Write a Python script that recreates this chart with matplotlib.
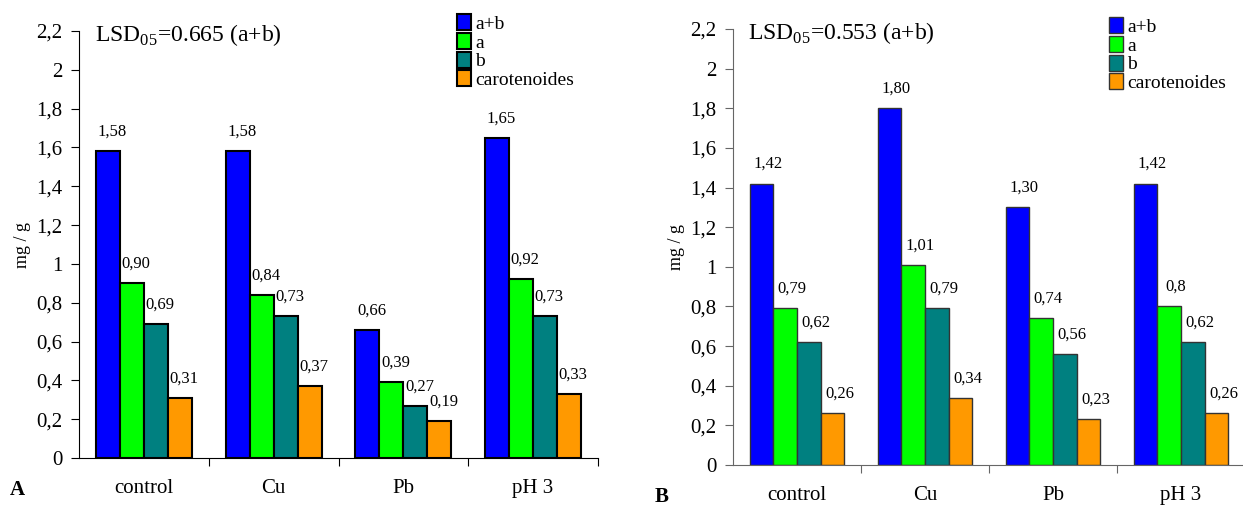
import numpy as np
import matplotlib
matplotlib.use("Agg")
import matplotlib.pyplot as plt

plt.rcParams['font.family'] = ['Liberation Serif', 'DejaVu Serif']
plt.rcParams['mathtext.fontset'] = 'custom'
plt.rcParams['mathtext.rm'] = 'Liberation Serif'

categories = ['control', 'Cu', 'Pb', 'pH 3']
series = ['a+b', 'a', 'b', 'carotenoides']
colors = ['#0000FF', '#00FF00', '#008080', '#FF9900']

# panel A
vals_A = {
    'a+b': [1.58, 1.58, 0.66, 1.65],
    'a': [0.90, 0.84, 0.39, 0.92],
    'b': [0.69, 0.73, 0.27, 0.73],
    'carotenoides': [0.31, 0.37, 0.19, 0.33],
}
labels_A = {
    'a+b': ['1,58', '1,58', '0,66', '1,65'],
    'a': ['0,90', '0,84', '0,39', '0,92'],
    'b': ['0,69', '0,73', '0,27', '0,73'],
    'carotenoides': ['0,31', '0,37', '0,19', '0,33'],
}
# panel B
vals_B = {
    'a+b': [1.42, 1.80, 1.30, 1.42],
    'a': [0.79, 1.01, 0.74, 0.80],
    'b': [0.62, 0.79, 0.56, 0.62],
    'carotenoides': [0.26, 0.34, 0.23, 0.26],
}
labels_B = {
    'a+b': ['1,42', '1,80', '1,30', '1,42'],
    'a': ['0,79', '1,01', '0,74', '0,8'],
    'b': ['0,62', '0,79', '0,56', '0,62'],
    'carotenoides': ['0,26', '0,34', '0,23', '0,26'],
}
yticks = [0, 0.2, 0.4, 0.6, 0.8, 1.0, 1.2, 1.4, 1.6, 1.8, 2.0, 2.2]
ytick_labels = ['0', '0,2', '0,4', '0,6', '0,8', '1', '1,2', '1,4', '1,6', '1,8', '2', '2,2']

W, H = 1243, 505
fig = plt.figure(figsize=(W / 100, H / 100), dpi=100)


def panel(rect, vals, labels, lsd, letter, letter_pos, edge, axcol, lw, leg_pos, dx):
    ax = fig.add_axes(rect)
    x = np.arange(len(categories))
    bw = 0.185
    for i, s in enumerate(series):
        pos = x + (i - 1.5) * bw
        ax.bar(pos, vals[s], bw, color=colors[i], edgecolor=edge, linewidth=lw, label=s)
        for px, v, t in zip(pos, vals[s], labels[s]):
            ax.annotate(t, (px, v), xytext=(dx, 14), textcoords='offset points',
                        ha='center', va='center', fontsize=12)
    ax.set_xlim(-0.5, 3.5)
    ax.set_ylim(0, 2.2)
    ax.set_yticks(yticks)
    ax.set_yticklabels(ytick_labels, fontsize=15)
    ax.set_xticks([0.5, 1.5, 2.5, 3.5])
    ax.set_xticklabels([])
    ax.set_xticks(x, minor=True)
    ax.set_xticklabels(categories, minor=True, fontsize=15)
    ax.tick_params(axis='x', which='minor', length=0, pad=15)
    ax.tick_params(axis='x', which='major', direction='out', length=6, color=axcol)
    ax.tick_params(axis='y', direction='out', length=6, color=axcol, pad=6)
    for sp in ['top', 'right']:
        ax.spines[sp].set_visible(False)
    for sp in ['left', 'bottom']:
        ax.spines[sp].set_color(axcol)
    ax.set_ylabel('mg / g', fontsize=13, labelpad=4)
    ax.text(0.03, 2.18, lsd, fontsize=17, va='center', ha='left',
            transform=ax.get_yaxis_transform())
    fig.text(letter_pos[0] / W, 1 - letter_pos[1] / H, letter, fontsize=15,
             fontweight='bold', ha='left', va='center')
    ax.legend(loc='upper left', bbox_to_anchor=(leg_pos[0] / W, 1 - leg_pos[1] / H),
              bbox_transform=fig.transFigure, frameon=False, fontsize=14,
              handlelength=0.7, handleheight=0.9, handletextpad=0.25,
              labelspacing=0.0, borderpad=0, borderaxespad=0)
    return ax


panel([79 / W, 1 - 458 / H, (598 - 79) / W, (458 - 31) / H], vals_A, labels_A,
      'LSD$_{05}$=0.665 (a+b)', 'A', (10, 490), 'black', 'black', 1.5, (457, 14), 3)
panel([733 / W, 1 - 465 / H, (1245 - 733) / W, (465 - 29) / H], vals_B, labels_B,
      'LSD$_{05}$=0.553 (a+b)', 'B', (655, 497), '#333333', '#666666', 1.0, (1109, 17), 5)

fig.savefig('out.png', dpi=100)
